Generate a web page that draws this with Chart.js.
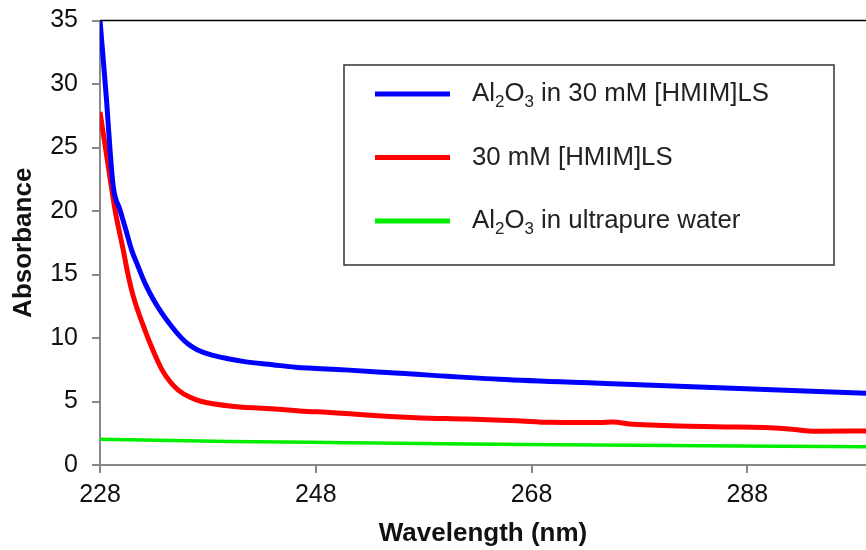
<!DOCTYPE html>
<html>
<head>
<meta charset="utf-8">
<script src="https://cdn.jsdelivr.net/npm/chart.js@4/dist/chart.umd.min.js"></script>
<style>
  html, body { margin: 0; padding: 0; background: #fff; }
  #wrap { width: 866px; height: 550px; }
</style>
</head>
<body>
<div id="wrap"><canvas id="uvChart" width="866" height="550"></canvas></div>
<script>
// Al2O3 in 30 mM [HMIM]LS
const blueWl  = [228, 228.6, 228.93, 229.23, 229.85, 230.4, 230.94, 231.5, 232.0, 232.4, 233.0, 233.7, 234.7, 235.5, 236.2, 237.0, 238.3, 240, 241.4, 244, 246.1, 250.7, 255.8, 265.0, 274.3, 286.6, 299];
const blueAbs = [35, 28.8, 24.8, 21.9, 20.1, 18.5, 16.9, 15.7, 14.65, 13.9, 12.95, 12.0, 10.85, 10.05, 9.5, 9.08, 8.67, 8.35, 8.14, 7.9, 7.7, 7.49, 7.22, 6.75, 6.43, 6.04, 5.65];

// 30 mM [HMIM]LS
const redWl  = [228, 228.77, 229.39, 230.16, 230.62, 231.08, 232.17, 233.0, 233.71, 234.5, 235.25, 236.3, 237.42, 240.5, 244.5, 246.5, 249.6, 252.7, 257.3, 262, 266.6, 269.7, 274.3, 275.5, 277.4, 285.1, 291.3, 294.4, 299];
const redAbs = [27.8, 23.5, 20.1, 16.9, 14.9, 13.3, 10.6, 8.85, 7.55, 6.55, 5.9, 5.35, 5.0, 4.6, 4.39, 4.26, 4.12, 3.94, 3.73, 3.62, 3.49, 3.36, 3.34, 3.38, 3.2, 3.02, 2.88, 2.65, 2.68];

// Al2O3 in ultrapure water
const greenWl  = [228, 240, 250.7, 262, 274.3, 287, 299];
const greenAbs = [2.02, 1.86, 1.76, 1.66, 1.58, 1.5, 1.44];

const xTicks = [228, 248, 268, 288];
const yTicks = [0, 5, 10, 15, 20, 25, 30, 35];

// legend labels as [text, isSubscript] pieces
const legendLabels = [
    [["Al", false], ["2", true], ["O", false], ["3", true], [" in 30 mM [HMIM]LS", false]],
    [["30 mM [HMIM]LS", false]],
    [["Al", false], ["2", true], ["O", false], ["3", true], [" in ultrapure water", false]]
];

const FONT = "'Liberation Sans', Arial, sans-serif";

function toPoints(xs, ys) {
    return ys.map((v, i) => ({ x: xs[i], y: v }));
}

// top frame line
const topLine = {
    id: "topLine",
    afterDraw(chart) {
        const { ctx, chartArea } = chart;
        ctx.save();
        ctx.strokeStyle = "#000";
        ctx.lineWidth = 1.5;
        ctx.beginPath();
        ctx.moveTo(chartArea.left, chartArea.top);
        ctx.lineTo(chartArea.right, chartArea.top);
        ctx.stroke();
        ctx.restore();
    }
};

// boxed legend with subscripts
const boxLegend = {
    id: "boxLegend",
    afterDraw(chart) {
        const ctx = chart.ctx;
        const box = { x: 344, y: 65, w: 490, h: 200 };
        ctx.save();
        ctx.fillStyle = "#fff";
        ctx.fillRect(box.x, box.y, box.w, box.h);
        ctx.strokeStyle = "#333";
        ctx.lineWidth = 1.5;
        ctx.strokeRect(box.x, box.y, box.w, box.h);

        chart.data.datasets.forEach((ds, i) => {
            const y = 94 + i * 63.5;
            ctx.strokeStyle = ds.borderColor;
            ctx.lineWidth = 5;
            ctx.beginPath();
            ctx.moveTo(375, y);
            ctx.lineTo(450, y);
            ctx.stroke();

            let x = 472;
            ctx.fillStyle = "#222";
            ctx.textBaseline = "middle";
            legendLabels[i].forEach(([txt, sub]) => {
                ctx.font = (sub ? "17px " : "25.8px ") + FONT;
                ctx.fillText(txt, x, sub ? y + 8 : y);
                x += ctx.measureText(txt).width;
            });
        });
        ctx.restore();
    }
};

const ctx = document.getElementById("uvChart").getContext("2d");
new Chart(ctx, {
    type: "line",
    data: {
        datasets: [
            { label: "Al2O3 in 30 mM [HMIM]LS", data: toPoints(blueWl, blueAbs), borderColor: "#0000ff", borderWidth: 5 },
            { label: "30 mM [HMIM]LS", data: toPoints(redWl, redAbs), borderColor: "#ff0000", borderWidth: 5 },
            { label: "Al2O3 in ultrapure water", data: toPoints(greenWl, greenAbs), borderColor: "#00ee00", borderWidth: 3.5 }
        ]
    },
    options: {
        responsive: false,
        animation: false,
        elements: {
            point: { radius: 0 },
            line: { cubicInterpolationMode: "monotone", fill: false }
        },
        layout: { padding: { top: 20.5, right: 0, left: 0, bottom: 0 } },
        plugins: {
            legend: { display: false },
            tooltip: { enabled: false }
        },
        scales: {
            x: {
                type: "linear",
                min: 228,
                max: 299,
                afterBuildTicks: (s) => { s.ticks = xTicks.map(v => ({ value: v })); },
                afterFit: (s) => { s.height = 85; s.paddingLeft = 0; s.paddingRight = 0; },
                grid: { drawOnChartArea: false, drawTicks: true, tickLength: 8, color: "#888", lineWidth: 2 },
                border: { color: "#888", width: 2 },
                ticks: { color: "#111", font: { family: FONT, size: 25 }, padding: 7, maxRotation: 0 },
                title: { display: true, text: "Wavelength (nm)", color: "#111", font: { family: FONT, size: 26, weight: "bold" }, padding: 1 }
            },
            y: {
                min: 0,
                max: 35,
                afterBuildTicks: (s) => { s.ticks = yTicks.map(v => ({ value: v })); },
                afterFit: (s) => { s.width = 100; s.paddingTop = 0; s.paddingBottom = 0; },
                grid: { drawOnChartArea: false, drawTicks: true, tickLength: 8, color: "#888", lineWidth: 2 },
                border: { color: "#888", width: 2 },
                ticks: { color: "#111", font: { family: FONT, size: 25 }, padding: 14 },
                title: { display: true, text: "Absorbance", color: "#111", font: { family: FONT, size: 26, weight: "bold" }, padding: 8 }
            }
        }
    },
    plugins: [topLine, boxLegend]
});
</script>
</body>
</html>
